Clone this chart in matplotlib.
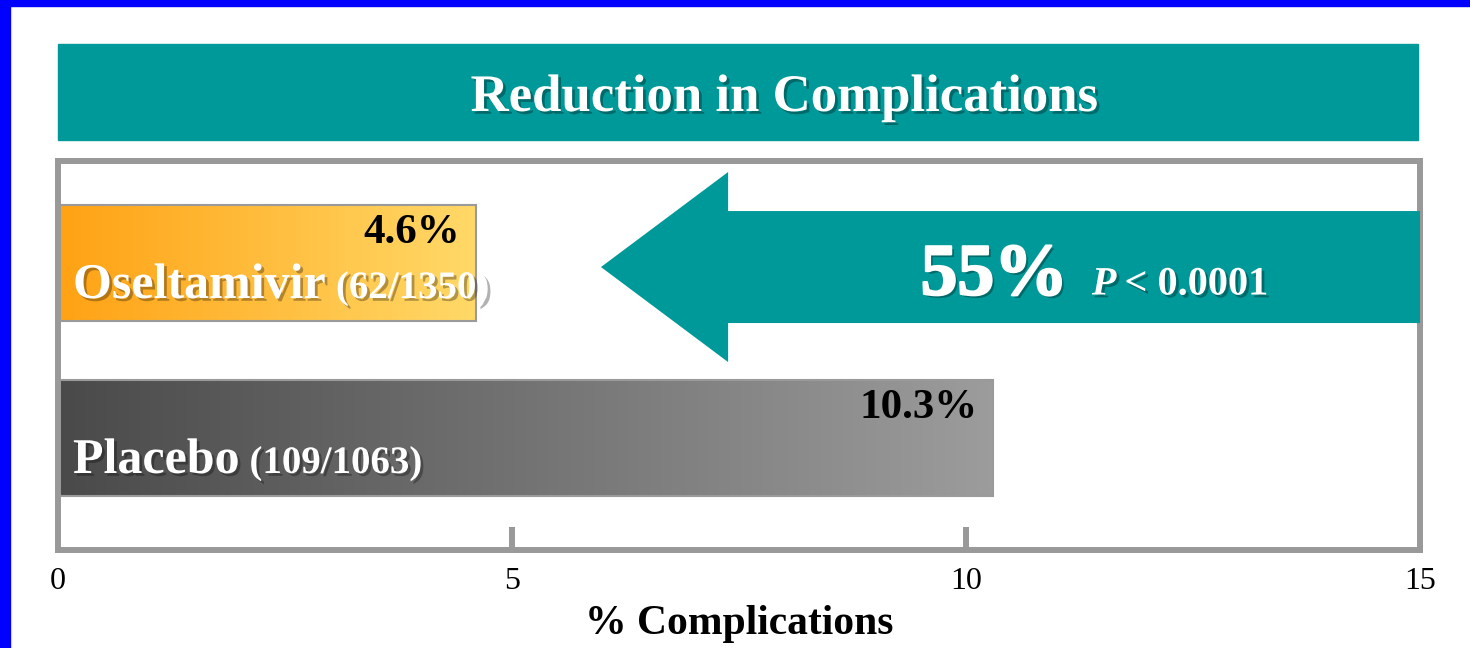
import matplotlib
matplotlib.use("Agg")
import matplotlib.pyplot as plt
import matplotlib.patches as mpatches
import matplotlib.patheffects as pe
from matplotlib.colors import LinearSegmentedColormap
import numpy as np

# ---- data ----
groups = ["Placebo", "Oseltamivir"]
counts = ["(109/1063)", "(62/1350)"]
rates = [10.3, 4.6]
rate_labels = ["10.3%", "4.6%"]
xticks = [0, 5, 10, 15]
reduction_label = "55%"
p_value_label = "< 0.0001"
title = "Reduction in Complications"
xlabel = "% Complications"

# ---- style ----
TEAL = "#009999"
SPINE = "#999999"
SERIF = ["Liberation Serif", "DejaVu Serif"]
bar_gradients = [("#4a4a4a", "#9c9c9c"), ("#ffa214", "#ffd968")]
shadow = [pe.withSimplePatchShadow(offset=(2, -2), shadow_rgbFace="black", alpha=0.3)]
heavy_shadow = [pe.SimplePatchShadow(offset=(2, -2), shadow_rgbFace="black", alpha=0.3),
                pe.Stroke(linewidth=1.6, foreground="white"), pe.Normal()]

W, H = 1470, 648
fig = plt.figure(figsize=(W / 100, H / 100), dpi=100)
fig.patch.set_facecolor("white")


def px_rect(x0, y0, x1, y1):
    """Pixel box (origin top-left) -> figure-fraction rect."""
    return (x0 / W, 1 - y1 / H, (x1 - x0) / W, (y1 - y0) / H)


# slide edge
fig.patches.append(mpatches.Rectangle((0, 0), 10 / W, 1, transform=fig.transFigure,
                                      color="#0000ff", zorder=0))
fig.patches.append(mpatches.Rectangle((0, 1 - 6 / H), 1, 6 / H, transform=fig.transFigure,
                                      color="#0000ff", zorder=0))

# title banner
bx, by, bw, bh = px_rect(58, 44, 1418, 140)
fig.patches.append(mpatches.Rectangle((bx, by), bw, bh, transform=fig.transFigure,
                                      color=TEAL, zorder=0))
fig.text(784 / W, 1 - 98 / H, title, ha="center", va="center", color="white",
         fontsize=38, fontweight="bold", family=SERIF, path_effects=shadow)

# chart
ax = fig.add_axes(px_rect(58, 161, 1420, 550))
pos = [0, 1]
bar_h = 0.663
bars = ax.barh(pos, rates, height=bar_h, facecolor="none", edgecolor="#9a9a9a",
               linewidth=1.5, zorder=3)
for bar, (c0, c1) in zip(bars, bar_gradients):
    cmap = LinearSegmentedColormap.from_list("grad", [c0, c1])
    x0, y0 = bar.get_x(), bar.get_y()
    ax.imshow(np.linspace(0, 1, 256)[None, :], cmap=cmap, aspect="auto",
              interpolation="bilinear", zorder=2,
              extent=[x0, x0 + bar.get_width(), y0, y0 + bar.get_height()])

ax.set_xlim(xticks[0], xticks[-1])
ax.set_ylim(-0.64, 1.583)

for s in ax.spines.values():
    s.set_color(SPINE)
    s.set_linewidth(4.3)

ax.set_yticks([])
ax.xaxis.remove_overlapping_locs = False
ax.set_xticks(xticks)
ax.set_xticklabels([str(t) for t in xticks], family=SERIF, fontsize=23)
ax.tick_params(axis="x", which="major", length=0, pad=12)
ax.set_xticks(xticks[1:-1], minor=True)
ax.tick_params(axis="x", which="minor", direction="in", length=16.5, width=4.3,
               color=SPINE)
ax.set_xlabel(xlabel, family=SERIF, fontsize=30, fontweight="bold", labelpad=7)

# value labels
for p, v, lab in zip(pos, rates, rate_labels):
    ax.text(v - 0.17, p + 0.17, lab, ha="right", va="center", fontsize=31,
            fontweight="bold", family=SERIF, color="black", zorder=5)

# group names with counts
name_texts = []
for p, g in zip(pos, groups):
    t = ax.text(0.165, p - 0.2, g, ha="left", va="baseline", fontsize=36,
                fontweight="bold", family=SERIF, color="white", zorder=5,
                path_effects=shadow)
    name_texts.append(t)

# reduction arrow
arrow_tip, arrow_y = 5.98, 0.977
ax.add_patch(mpatches.FancyArrow(xticks[-1], arrow_y, arrow_tip - xticks[-1], 0,
                                 width=0.64, head_width=1.086, head_length=1.40,
                                 length_includes_head=True, color=TEAL, lw=0,
                                 zorder=4))
red_txt = ax.text(9.5, 0.82, reduction_label, ha="left", va="baseline", fontsize=53,
                  fontweight="bold", family=SERIF, color="white", zorder=5,
                  path_effects=heavy_shadow)

fig.canvas.draw()
inv = ax.transData.inverted()


def after(artist, gap_px):
    bb = artist.get_window_extent()
    return inv.transform((bb.x1 + gap_px, bb.y0))[0]


for t, p, c in zip(name_texts, pos, counts):
    ax.text(after(t, 10), p - 0.2, c, ha="left", va="baseline", fontsize=28,
            fontweight="bold", family=SERIF, color="white", zorder=5,
            path_effects=shadow)

p_txt = ax.text(after(red_txt, 24), 0.82, "P", ha="left", va="baseline", fontsize=29,
                fontweight="bold", fontstyle="italic", family=SERIF, color="white",
                zorder=5, path_effects=shadow)
fig.canvas.draw()
ax.text(after(p_txt, 8), 0.82, p_value_label, ha="left", va="baseline", fontsize=29,
        fontweight="bold", family=SERIF, color="white", zorder=5, path_effects=shadow)

fig.savefig("out.png", dpi=100, facecolor="white")
